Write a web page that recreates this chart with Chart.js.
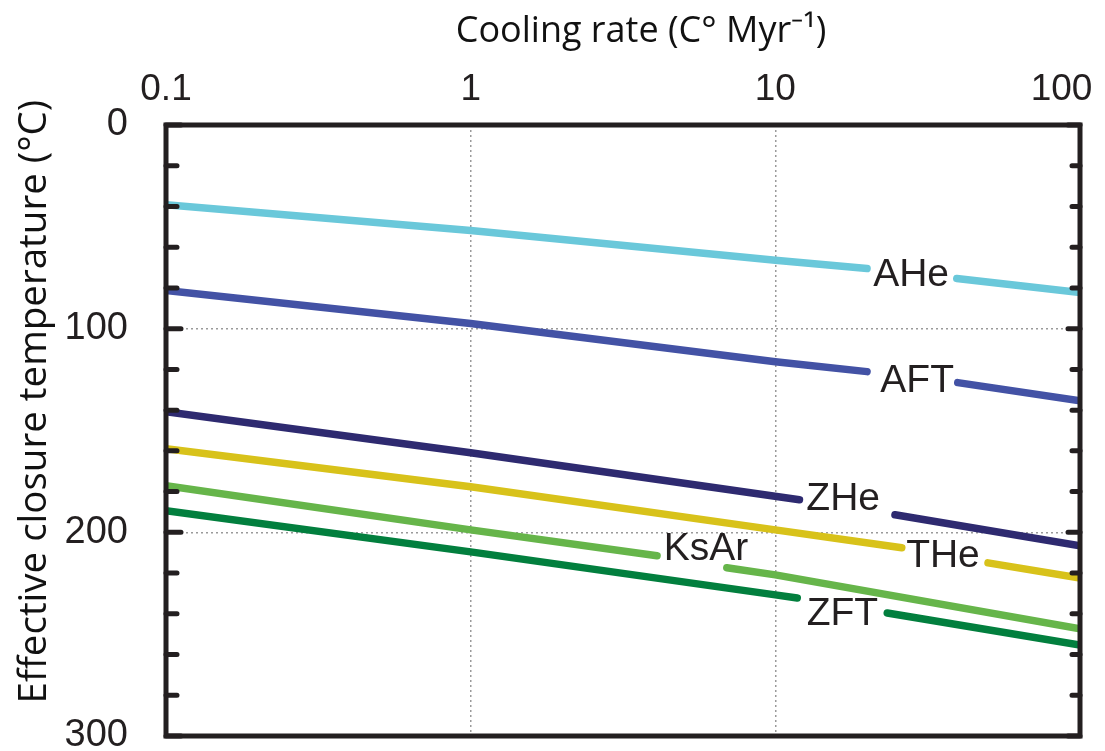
<!DOCTYPE html>
<html>
<head>
<meta charset="utf-8">
<script src="https://cdn.jsdelivr.net/npm/chart.js@4.4.1/dist/chart.umd.min.js"></script>
<style>
  html, body { margin: 0; padding: 0; background: #fff; }
  #wrap { width: 1105px; height: 751px; position: relative; }
</style>
</head>
<body>
<div id="wrap"><canvas id="chart"></canvas></div>
<script>
// ── DATOS ─────────────────────────────────────────────
// [cooling rate (C°/Myr), closure temperature (°C)], null = hueco para la etiqueta
const AHE  = [[0.1, 39.1], [1, 51.8], [10, 66.4], [20.0, 70.5], null, [39.4, 75.4], [100, 82.3]];
const AFT  = [[0.1, 81.3], [1, 97.5], [10, 116.2], [20.0, 121.1], null, [39.7, 126.5], [100, 135.4]];
const ZHE  = [[0.1, 140.8], [1, 160.9], [12.0, 184.0], null, [24.7, 191.4], [100, 206.6]];
const THE  = [[0.1, 158.9], [1, 177.6], [10, 198.8], [26.0, 207.6], null, [49.9, 215.0], [100, 222.4]];
const KSAR = [[0.1, 177.1], [1, 198.8], [4.09, 211.5], null, [6.93, 217.4], [10, 220.9], [100, 247.4]];
const ZFT  = [[0.1, 189.4], [1, 209.6], [10, 230.7], [11.8, 232.2], null, [23.3, 239.6], [100, 255.3]];

const SERIES_NAMES = ['AHe', 'AFT', 'ZHe', 'THe', 'KsAr', 'ZFT'];
const SERIES_DATA = [AHE, AFT, ZHE, THE, KSAR, ZFT];

// etiquetas dentro de los huecos (coordenadas de datos)
const LABEL_X = [27.9, 29.2, 16.7, 35.5, 5.92, 16.6];
const LABEL_Y = [74.0, 126.0, 184.0, 211.5, 208.1, 240.1];

const X_TICKS = [0.1, 1, 10, 100];
const Y_MIN = 0, Y_MAX = 300, Y_STEP = 20;

const COLORES = {
    AHe: '#6ac8da',
    AFT: '#4352a5',
    ZHe: '#2e2a70',
    THe: '#d8c21a',
    KsAr: '#66b54a',
    ZFT: '#027f3e',
};
const NEGRO = '#231f20';
const GRIS_GRID = '#9a9a9a';
const FUENTE_TICKS = '"Liberation Sans", Arial, sans-serif';

// ── PLUGINS ───────────────────────────────────────────
const marcoPlugin = {
    id: 'marco',
    afterDraw(chart) {
        const { ctx, chartArea: a, scales } = chart;
        ctx.save();
        ctx.strokeStyle = NEGRO;
        ctx.lineCap = 'round';
        ctx.lineWidth = 5;
        // ticks hacia dentro en el eje y (izq. y der.)
        scales.y.ticks.forEach(t => {
            const py = scales.y.getPixelForValue(t.value);
            const major = t.value % 100 === 0;
            ctx.beginPath();
            ctx.moveTo(a.left, py);
            ctx.lineTo(a.left + (major ? 15 : 11), py);
            ctx.moveTo(a.right, py);
            ctx.lineTo(a.right - (major ? 12 : 8), py);
            ctx.stroke();
        });
        ctx.lineCap = 'butt';
        ctx.strokeRect(a.left, a.top, a.right - a.left, a.bottom - a.top);
        ctx.restore();
    },
};

const etiquetasPlugin = {
    id: 'etiquetas',
    afterDatasetsDraw(chart) {
        const { ctx, scales } = chart;
        ctx.save();
        ctx.fillStyle = NEGRO;
        ctx.font = '39px ' + FUENTE_TICKS;
        ctx.textAlign = 'center';
        ctx.textBaseline = 'middle';
        SERIES_NAMES.forEach((name, i) => {
            ctx.fillText(name, scales.x.getPixelForValue(LABEL_X[i]), scales.y.getPixelForValue(LABEL_Y[i]));
        });
        ctx.restore();
    },
};

// ── GRÁFICA ───────────────────────────────────────────
const datasets = SERIES_NAMES.map((name, i) => ({
    label: name,
    data: SERIES_DATA[i].map(p => p ? { x: p[0], y: p[1] } : { x: null, y: null }),
    borderColor: COLORES[name],
    borderWidth: 7.5,
    borderCapStyle: 'round',
    borderJoinStyle: 'round',
    pointRadius: 0,
    spanGaps: false,
    tension: 0,
}));

new Chart(document.getElementById('chart'), {
    type: 'line',
    data: { datasets },
    options: {
        responsive: true,
        maintainAspectRatio: false,
        animation: false,
        layout: { padding: { left: 0, right: 25, top: 0, bottom: 15 } },
        plugins: {
            legend: { display: false },
            tooltip: { enabled: false },
        },
        scales: {
            x: {
                type: 'logarithmic',
                position: 'top',
                min: 0.1,
                max: 100,
                afterBuildTicks: s => { s.ticks = X_TICKS.map(v => ({ value: v })); },
                afterFit: s => { s.height = 125; s.paddingLeft = 0; s.paddingRight = 0; },
                ticks: {
                    autoSkip: false,
                    color: NEGRO,
                    font: { family: FUENTE_TICKS, size: 37 },
                    padding: 13,
                    maxRotation: 0,
                    // el último rótulo se desplaza a la izquierda para que quepa
                    callback: (v, i, arr) => (i === arr.length - 1 ? String(v) + '\u2002\u2002' : String(v)),
                },
                grid: {
                    drawTicks: false,
                    lineWidth: 1.5,
                    color: c => (c.tick && (c.tick.value === 1 || c.tick.value === 10)) ? GRIS_GRID : 'rgba(0,0,0,0)',
                },
                border: { display: false, dash: [2, 3] },
                title: {
                    display: true,
                    text: '\u2003Cooling rate (C° Myr⁻¹)',
                    color: '#111',
                    font: { family: '"Open Sans", sans-serif', size: 36 },
                    padding: { top: 10, bottom: 0 },
                },
            },
            y: {
                type: 'linear',
                reverse: true,
                min: Y_MIN,
                max: Y_MAX,
                afterFit: s => { s.width = 166; s.paddingTop = 0; s.paddingBottom = 0; },
                ticks: {
                    autoSkip: false,
                    stepSize: Y_STEP,
                    color: NEGRO,
                    font: { family: FUENTE_TICKS, size: 38 },
                    padding: 38,
                    callback: v => (v % 100 === 0 ? String(v) : ''),
                },
                grid: {
                    drawTicks: false,
                    lineWidth: 1.5,
                    color: c => (c.tick && (c.tick.value === 100 || c.tick.value === 200)) ? GRIS_GRID : 'rgba(0,0,0,0)',
                },
                border: { display: false, dash: [2, 3] },
                title: {
                    display: true,
                    text: '\u2002\u2002\u2002Effective closure temperature (°C)',
                    color: '#111',
                    font: { family: '"Open Sans", sans-serif', size: 38.5 },
                    padding: { top: 12, bottom: 0 },
                },
            },
        },
    },
    plugins: [etiquetasPlugin, marcoPlugin],
});
</script>
</body>
</html>
